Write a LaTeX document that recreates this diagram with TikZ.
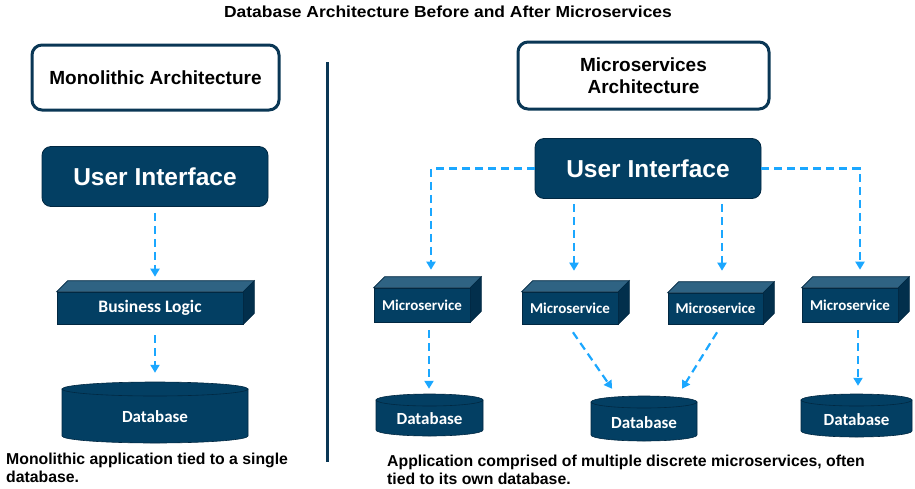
\documentclass[tikz,border=0pt]{standalone}
\usepackage{fontspec}
\setmainfont{Liberation Sans}
\newfontfamily\cfont{Carlito}
\usetikzlibrary{arrows.meta}
\definecolor{navy}{RGB}{3,63,99}
\definecolor{navytop}{RGB}{47,99,131}
\definecolor{navyside}{RGB}{2,47,76}
\definecolor{navyline}{RGB}{1,40,66}
\definecolor{arrowblue}{RGB}{27,167,255}
\definecolor{framecol}{RGB}{10,55,85}
\tikzset{
  arr/.style={draw=arrowblue, line width=2.2pt, dash pattern=on 8pt off 5pt, -{Triangle[length=8pt,width=9pt]}},
  uibox/.style={rounded corners=9pt, fill=navy, draw=navyline, line width=0.8pt, text=white,
    font=\fontsize{24.5}{28}\selectfont\bfseries, minimum width=226pt, minimum height=60pt, inner sep=0pt},
  headbox/.style={rounded corners=10pt, draw=framecol, line width=3pt, fill=white, align=center,
    font=\fontsize{19}{22}\selectfont\bfseries, inner sep=0pt},
  frontface/.style={fill=navy, draw=navyline, line width=0.6pt, text=white, inner sep=0pt},
  topface/.style={fill=navytop, draw=navyline, line width=0.6pt},
  sideface/.style={fill=navyside, draw=navyline, line width=0.6pt},
  cylbody/.style={fill=navy, draw=navyline, line width=0.6pt},
  dbtext/.style={text=white, inner sep=0pt, font=\fontsize{17}{20}\selectfont\cfont\bfseries},
  mstext/.style={font=\fontsize{15}{18}\selectfont\cfont\bfseries},
  bltext/.style={font=\fontsize{17.5}{20}\selectfont\cfont\bfseries},
  note/.style={align=left, inner sep=0pt, anchor=north west, font=\fontsize{15.8}{17.5}\selectfont\bfseries},
  divider/.style={draw=framecol, line width=3pt}
}
% #1 name, #2 cx, #3 cy, #4 width, #5 height, #6 depth, #7 style, #8 label
\newcommand{\boxthreed}[8]{%
  \node[frontface, #7, minimum width=#4, minimum height=#5] (#1) at (#2,#3) {#8};
  \draw[topface] (#1.north west) -- ++(#6,-#6) -- ([shift={(#6,-#6)}]#1.north east) -- (#1.north east) -- cycle;
  \draw[sideface] (#1.north east) -- ++(#6,-#6) -- ([shift={(#6,-#6)}]#1.south east) -- (#1.south east) -- cycle;
}
% #1 name, #2 cx, #3 top ellipse centre y, #4 bottom y, #5 rx, #6 ry
\newcommand{\dbcyl}[6]{%
  \draw[cylbody] ({#2-#5},#3) -- ({#2-#5},{#4-#6}) arc[start angle=180, end angle=0, x radius=#5, y radius=#6] -- ({#2+#5},#3) -- cycle;
  \draw[cylbody] (#2,#3) ellipse[x radius=#5, y radius=#6];
  \node[dbtext, minimum width={2*#5}, minimum height={#4-#3}] (#1) at (#2,{(#3+#4)/2+1}) {Database};
}
\begin{document}
\begin{tikzpicture}[x=1pt, y=-1pt]
\useasboundingbox (0,0) rectangle (915,488);

\node[font=\fontsize{16}{19}\selectfont\bfseries] (title) at (448,12) {\scalebox{1.09}[1]{Database Architecture Before and After Microservices}};

\node[headbox, minimum width=247pt, minimum height=65pt] (mono) at (155.5,77.5) {Monolithic Architecture};
\node[headbox, minimum width=251pt, minimum height=67pt] (micro) at (643.5,75.5) {Microservices\\Architecture};

\draw[divider] (327,62) -- (327,462);

% left column
\node[uibox] (uiL) at (155,176.5) {User Interface};
\boxthreed{bl}{150}{308}{186pt}{32pt}{11}{bltext}{Business Logic}
\dbcyl{dbL}{155}{389}{443}{93}{7}

\draw[arr, shorten <=6pt, shorten >=4pt] (uiL.south) -- ([xshift=5pt,yshift=11pt]bl.north);
\draw[arr, shorten <=11pt, shorten >=17pt] ([xshift=5pt]bl.south) -- (dbL.north);

% right column
\node[uibox] (uiR) at (648,168.5) {User Interface};
\boxthreed{ms1}{422}{305}{96pt}{34pt}{11}{mstext}{Microservice}
\boxthreed{ms2}{570}{308}{96pt}{32pt}{11}{mstext}{Microservice}
\boxthreed{ms3}{715.5}{308.5}{95pt}{31pt}{11}{mstext}{Microservice}
\boxthreed{ms4}{850}{305}{96pt}{34pt}{11}{mstext}{Microservice}

\dbcyl{db1}{429.5}{400}{436}{53.5}{6}
\dbcyl{db2}{644}{402}{441}{53}{6}
\dbcyl{db3}{856.5}{400}{437}{55.5}{6}

\draw[arr, shorten >=7pt] (uiR.west) -| ([xshift=9pt,yshift=11pt]ms1.north);
\draw[arr, shorten >=7pt] (uiR.east) -| ([xshift=10pt,yshift=11pt]ms4.north);
\draw[arr, shorten <=5pt, shorten >=10pt] ([xshift=-74pt]uiR.south) -- ([xshift=4pt,yshift=11pt]ms2.north);
\draw[arr, shorten <=5pt, shorten >=11pt] ([xshift=74pt]uiR.south) -- ([xshift=6.5pt,yshift=11pt]ms3.north);

\draw[arr, shorten <=8pt, shorten >=12pt] ([xshift=7pt]ms1.south) -- ([xshift=-0.5pt]db1.north);
\draw[arr, shorten <=9.7pt, shorten >=17pt] ([xshift=-2.6pt]ms2.south) -- ([xshift=-22.2pt]db2.north);
\draw[arr, shorten <=9.4pt, shorten >=16.5pt] ([xshift=6.5pt]ms3.south) -- ([xshift=29.25pt]db2.north);
\draw[arr, shorten <=8pt, shorten >=15pt] ([xshift=8pt]ms4.south) -- ([xshift=1.5pt]db3.north);

% captions
\node[note] (capL) at (6,453) {Monolithic application tied to a single\\database.};
\node[note] (capR) at (387,455) {Application comprised of multiple discrete microservices, often\\tied to its own database.};
\end{tikzpicture}
\end{document}
